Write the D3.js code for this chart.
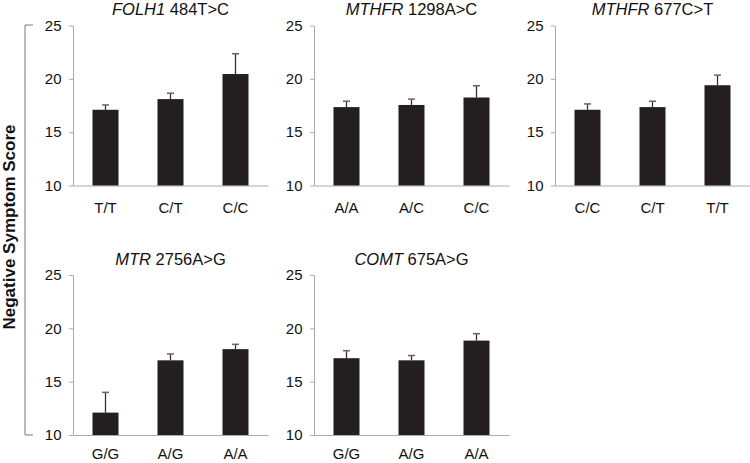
<!DOCTYPE html>
<html>
<head>
<meta charset="utf-8">
<script src="https://cdn.jsdelivr.net/npm/d3@7"></script>
<style>
  body { margin: 0; background: #fff; }
  text { font-family: "Liberation Sans", Arial, Helvetica, sans-serif; fill: #111; }
</style>
</head>
<body>
<svg></svg>
<script>
let width = 750;
let height = 463;

// one entry per panel
let genes = ["FOLH1", "MTHFR", "MTHFR", "MTR", "COMT"];
let variants = ["484T>C", "1298A>C", "677C>T", "2756A>G", "675A>G"];
let genotypes = [
    ["T/T", "C/T", "C/C"],
    ["A/A", "A/C", "C/C"],
    ["C/C", "C/T", "T/T"],
    ["G/G", "A/G", "A/A"],
    ["G/G", "A/G", "A/A"]
];
let means = [
    [17.1, 18.1, 20.45],
    [17.35, 17.55, 18.25],
    [17.1, 17.35, 19.4],
    [12.1, 17.0, 18.05],
    [17.2, 17.0, 18.85]
];
let errors = [
    [0.45, 0.55, 1.9],
    [0.55, 0.55, 1.1],
    [0.55, 0.55, 0.95],
    [1.9, 0.6, 0.45],
    [0.7, 0.45, 0.65]
];
let yTicks = [10, 15, 20, 25];

const svg = d3.select("svg")
    .attr("width", width)
    .attr("height", height);

let colX = [73, 314, 555];
let rowY = [25.5, 275];
let titleY = [15, 265];
let labelPad = [17.3, 13.8];
let plotW = 195;
let plotH = 160;

genes.forEach((gene, i) => {
    let x0 = colX[i % 3];
    let row = Math.floor(i / 3);
    let y0 = rowY[row];

    let x = d3.scaleBand()
        .domain(genotypes[i])
        .range([x0, x0 + plotW])
        .paddingInner(0.6)
        .paddingOuter(0.3);

    let y = d3.scaleLinear()
        .domain([10, 25])
        .range([y0 + plotH, y0]);

    const g = svg.append("g");

    // y axis
    g.append("g")
        .attr("transform", `translate(${x0},0)`)
        .call(d3.axisLeft(y).tickValues(yTicks).tickSize(4).tickSizeOuter(0).tickPadding(7.5))
        .call(a => a.selectAll("path, line").attr("stroke", "#aaa"))
        .call(a => a.selectAll("text").attr("font-size", 15).attr("fill", "#111"));

    // x axis
    g.append("g")
        .attr("transform", `translate(0,${y0 + plotH})`)
        .call(d3.axisBottom(x).tickSize(0).tickSizeOuter(0).tickPadding(labelPad[row]))
        .call(a => a.select("path").attr("stroke", "#aaa"))
        .call(a => a.selectAll("text").attr("font-size", 15).attr("fill", "#111"));

    // error bars (upper only)
    const eb = g.append("g").selectAll("g")
        .data(genotypes[i].map((k, j) => ({k, m: means[i][j], e: errors[i][j]})))
        .join("g");
    eb.append("line")
        .attr("x1", d => x(d.k) + x.bandwidth() / 2)
        .attr("x2", d => x(d.k) + x.bandwidth() / 2)
        .attr("y1", d => y(d.m))
        .attr("y2", d => y(d.m + d.e))
        .attr("stroke", "#333")
        .attr("stroke-width", 1.3);
    eb.append("line")
        .attr("x1", d => x(d.k) + x.bandwidth() / 2 - 3.5)
        .attr("x2", d => x(d.k) + x.bandwidth() / 2 + 3.5)
        .attr("y1", d => y(d.m + d.e))
        .attr("y2", d => y(d.m + d.e))
        .attr("stroke", "#666")
        .attr("stroke-width", 1.5);

    // bars
    g.append("g").selectAll("rect")
        .data(genotypes[i].map((k, j) => ({k, m: means[i][j]})))
        .join("rect")
        .attr("x", d => x(d.k))
        .attr("width", x.bandwidth())
        .attr("y", d => y(d.m))
        .attr("height", d => y(10) - y(d.m))
        .attr("fill", "#231f20");

    // title
    const t = g.append("text")
        .attr("x", x0 + plotW / 2)
        .attr("y", titleY[row])
        .attr("text-anchor", "middle")
        .attr("font-size", 16.5);
    t.append("tspan").attr("font-style", "italic").text(gene);
    t.append("tspan").text(" " + variants[i]);
});

// shared y label with bracket
svg.append("path")
    .attr("d", "M33,25H25V435H33")
    .attr("fill", "none")
    .attr("stroke", "#777")
    .attr("stroke-width", 1);

svg.append("text")
    .attr("transform", "translate(14.5,227) rotate(-90)")
    .attr("text-anchor", "middle")
    .attr("font-size", 17)
    .attr("font-weight", "bold")
    .text("Negative Symptom Score");
</script>
</body>
</html>
